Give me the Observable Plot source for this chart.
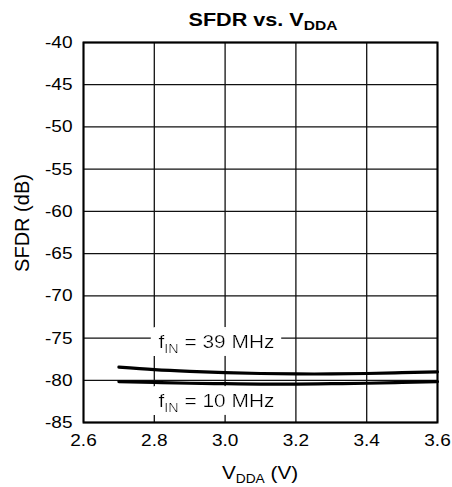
<!DOCTYPE html>
<html><head><meta charset="utf-8">
<script src="https://cdn.jsdelivr.net/npm/d3@7"></script>
<script src="https://cdn.jsdelivr.net/npm/@observablehq/plot@0.6"></script>
<style>
html,body{margin:0;padding:0;background:#fff;}
#chart svg{display:block;}
</style></head><body><div id="chart"></div>
<script>
// Data
const vdda    = [2.7, 2.8, 2.9, 3.0, 3.1, 3.2, 3.3, 3.4, 3.5, 3.6];
const sfdr39  = [-78.45, -78.75, -78.95, -79.1, -79.2, -79.25, -79.25, -79.2, -79.1, -79.0];
const sfdr10  = [-80.15, -80.25, -80.35, -80.4, -80.45, -80.45, -80.4, -80.35, -80.25, -80.15];
const xTicks  = [2.6, 2.8, 3.0, 3.2, 3.4, 3.6];
const yTicks  = [-85, -80, -75, -70, -65, -60, -55, -50, -45, -40];
const labelText = ["f_IN = 39 MHz", "f_IN = 10 MHz"];
const labelX    = [2.812, 2.812];
const labelY    = [-76.2, -83.2];

const FONT = "'Liberation Sans', Arial, Helvetica, sans-serif";
const rows39 = vdda.map((v, i) => ({v, s: sfdr39[i]}));
const rows10 = vdda.map((v, i) => ({v, s: sfdr10[i]}));
const labels = labelText.map((t, i) => ({t, x: labelX[i], y: labelY[i]}));

const chart = Plot.plot({
  width: 452, height: 487,
  marginLeft: 83, marginRight: 15, marginTop: 42, marginBottom: 65,
  style: {fontFamily: FONT, fontSize: "17px", color: "black", background: "white"},
  x: {domain: [2.6, 3.6], ticks: xTicks, tickFormat: d => d.toFixed(1), tickSize: 0, tickPadding: 11, label: null},
  y: {domain: [-85, -40], ticks: yTicks, tickFormat: d => String(d), tickSize: 0, tickPadding: 11, label: null},
  marks: [
    Plot.ruleX(xTicks, {stroke: "#111", strokeWidth: 1.3}),
    Plot.ruleY(yTicks, {stroke: "#111", strokeWidth: 1.3}),
    Plot.text(labels, {x: "x", y: "y", text: "t", textAnchor: "start", lineAnchor: "bottom",
      fontSize: 19, fill: "black"}),
    Plot.line(rows39, {x: "v", y: "s", stroke: "black", strokeWidth: 3.2, curve: "natural"}),
    Plot.line(rows10, {x: "v", y: "s", stroke: "black", strokeWidth: 3.2, curve: "natural"}),
    Plot.frame({stroke: "black", strokeWidth: 2})
  ]
});
document.getElementById("chart").appendChild(chart);

const svg = d3.select(chart);
// white box-like halo filter behind curve labels
const f = svg.insert("defs", ":first-child").append("filter").attr("id", "labelHalo")
  .attr("x", "-20%").attr("y", "-80%").attr("width", "140%").attr("height", "260%");
f.append("feMorphology").attr("in", "SourceAlpha").attr("operator", "dilate").attr("radius", 8).attr("result", "d");
f.append("feFlood").attr("flood-color", "white").attr("result", "w");
f.append("feComposite").attr("in", "w").attr("in2", "d").attr("operator", "in").attr("result", "halo");
const fm = f.append("feMerge");
fm.append("feMergeNode").attr("in", "halo");
fm.append("feMergeNode").attr("in", "SourceGraphic");

// widen axis tick labels to match reference glyph proportions
svg.selectAll('g[aria-label^="x-axis"] text, g[aria-label^="y-axis"] text').each(function() {
  const t = this.getAttribute("transform") || "";
  this.setAttribute("transform", (t + " scale(1.12,1)").trim());
});
// subscripts in curve labels
svg.selectAll('g[aria-label="text"]').attr("filter", "url(#labelHalo)");
svg.selectAll('g[aria-label="text"] text').each(function() {
  const s = this.textContent;
  const t = this.getAttribute("transform") || "";
  this.setAttribute("transform", (t + " scale(1.1,1)").trim());
  const m = s.match(/^(\w)_(\w+)(.*)$/);
  if (!m) return;
  const el = d3.select(this);
  el.text(null);
  el.append("tspan").text(m[1]);
  el.append("tspan").attr("font-size", 13).attr("dy", 5).text(m[2]);
  el.append("tspan").attr("dy", -5).text(m[3]);
});
// title
const title = svg.append("text").attr("transform", "translate(263,26) scale(1.2,1)")
  .attr("text-anchor", "middle").attr("font-family", FONT).attr("font-weight", "bold")
  .attr("font-size", 18).attr("fill", "black");
title.append("tspan").text("SFDR vs. V");
title.append("tspan").attr("font-size", 13).attr("dy", 4).text("DDA");
// x label
const xl = svg.append("text").attr("transform", "translate(260,479) scale(1.15,1)")
  .attr("text-anchor", "middle").attr("font-family", FONT).attr("font-size", 18).attr("fill", "black");
xl.append("tspan").text("V");
xl.append("tspan").attr("font-size", 12).attr("dy", 4).text("DDA");
xl.append("tspan").attr("dy", -4).text(" (V)");
// y label
svg.append("text").attr("transform", "translate(29,223) rotate(-90)")
  .attr("text-anchor", "middle").attr("font-family", FONT).attr("font-size", 20).attr("fill", "black")
  .text("SFDR (dB)");
</script></body></html>
